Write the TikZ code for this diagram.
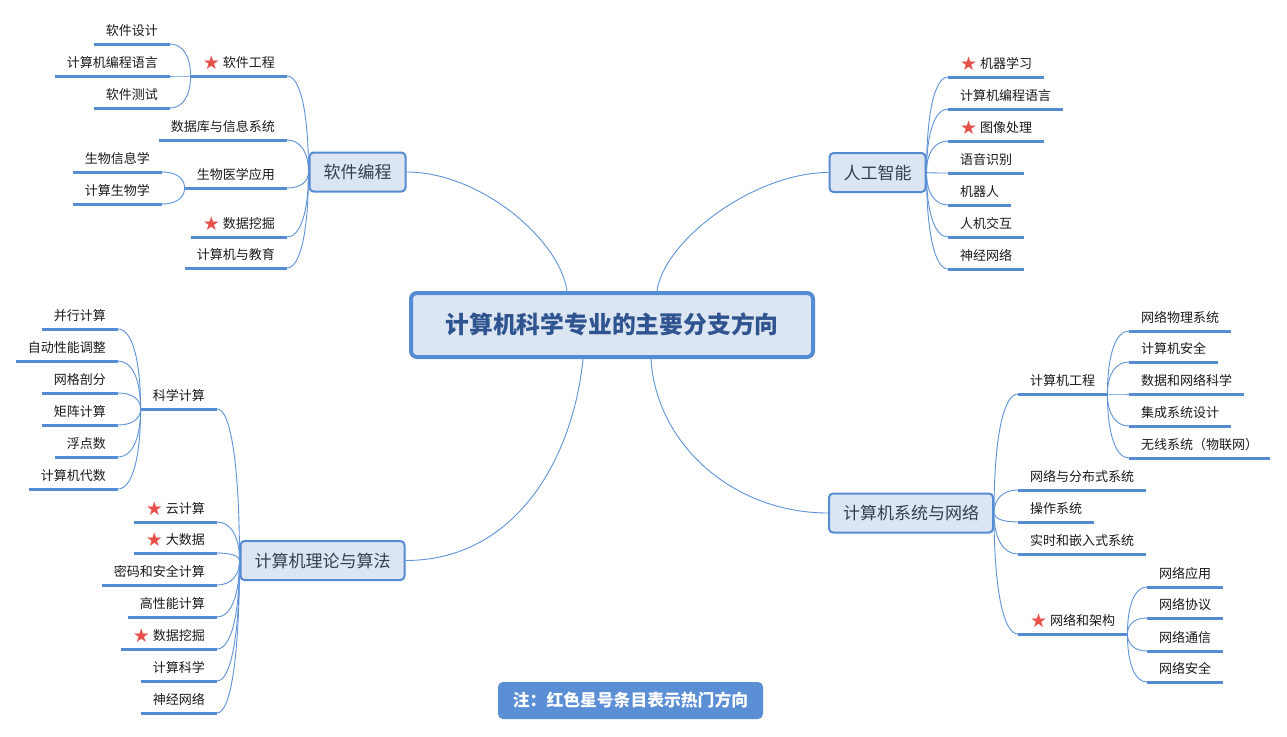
\documentclass[tikz,border=0pt]{standalone}
\usepackage{fontspec}
\setmainfont{Noto Sans CJK SC}
\newfontfamily\symfont{DejaVu Sans}
\usetikzlibrary{calc}
\definecolor{mblue}{HTML}{558BD3}
\definecolor{cblue}{HTML}{5E93D8}
\definecolor{ublue}{HTML}{558BD3}
\definecolor{mfill}{HTML}{DCE6F2}
\definecolor{roottext}{HTML}{2F548F}
\definecolor{maintext}{HTML}{333F50}
\definecolor{leaftext}{HTML}{1A1A1A}
\definecolor{starred}{HTML}{E8504A}
\definecolor{notefill}{HTML}{5A8ED5}
\newcommand\hotstar{\raisebox{-2pt}{\color{starred}\symfont\fontsize{19pt}{19pt}\selectfont ★}\hspace{3pt}}
\newcommand\leafL[4]{\node[leaf,anchor=south east] (#1) at (#2,#3) {#4};\draw[uline] (#1.south west) -- (#1.south east);}
\newcommand\leafR[4]{\node[leaf,anchor=south west] (#1) at (#2,#3) {#4};\draw[uline] (#1.south west) -- (#1.south east);}
\newcommand\link[2]{\draw[conn] (#1) .. controls ($(#1)!.62!(#1|-#2)$) and ($(#2)!.62!(#1|-#2)$) .. (#2);}
\tikzset{
  leaf/.style={inner xsep=12pt, inner ysep=0pt, text height=10pt, text depth=8.5pt,
    font=\fontsize{13pt}{15pt}\selectfont, text=leaftext},
  uline/.style={draw=ublue, line width=3pt},
  conn/.style={draw=cblue, line width=0.9pt},
  mainnode/.style={draw=mblue, line width=2pt, fill=mfill, rounded corners=4pt,
    inner xsep=14pt, inner ysep=0pt, minimum height=39pt, text height=13pt, text depth=0pt,
    font=\fontsize{17pt}{20pt}\selectfont, text=maintext},
  rootnode/.style={draw=mblue, line width=4pt, fill=mfill, rounded corners=6pt,
    minimum width=402pt, minimum height=64pt, inner sep=0pt, text height=17.8pt, text depth=0pt,
    font=\fontsize{23.8pt}{28pt}\selectfont\bfseries, text=roottext},
  notenode/.style={fill=notefill, rounded corners=5pt, minimum width=265pt, minimum height=37pt,
    inner sep=0pt, text height=12.6pt, text depth=0pt,
    font=\fontsize{16.8pt}{20pt}\selectfont\bfseries, text=white}
}
\begin{document}
\begin{tikzpicture}[x=1pt,y=-1pt]
\fill[white] (0,0) rectangle (1287,736);
\useasboundingbox (0,0) rectangle (1287,736);

% root and main nodes
\node[rootnode] (root) at (612,325) {计算机科学专业的主要分支方向};
\node[mainnode] (sw) at (357.5,172) {软件编程};
\node[mainnode] (ai) at (877.5,172.5) {人工智能};
\node[mainnode] (th) at (322.5,560.5) {计算机理论与算法};
\node[mainnode] (ne) at (911,513) {计算机系统与网络};
\node[notenode] (note) at (630.5,700.5) {注：红色星号条目表示热门方向};

\coordinate (rt1) at ($(root.north)+(-45,0)$);
\coordinate (rt2) at ($(root.north)+(45,0)$);
\coordinate (rb1) at ($(root.south)+(-29,0)$);
\coordinate (rb2) at ($(root.south)+(39,0)$);
\draw[conn] (sw.east) .. controls +(74,0) and +(-7,-51) .. (rt1);
\draw[conn] (ai.west) .. controls +(-74,0) and +(7,-51) .. (rt2);
\draw[conn] (th.east) .. controls +(110,0) and +(-10,100) .. (rb1);
\draw[conn] (ne.west) .. controls +(-95,0) and +(5,85) .. (rb2);

% 软件编程
\leafL{sw1}{287}{76}{\hotstar 软件工程}
\leafL{sw2}{287}{140}{数据库与信息系统}
\leafL{sw3}{287}{188}{生物医学应用}
\leafL{sw4}{287}{237}{\hotstar 数据挖掘}
\leafL{sw5}{287}{268}{计算机与教育}
\foreach \c in {sw1,sw2,sw3,sw4,sw5}{\link{sw.west}{\c.south east}}
\leafL{sw1a}{170}{44}{软件设计}
\leafL{sw1b}{170}{76}{计算机编程语言}
\leafL{sw1c}{170}{108}{软件测试}
\foreach \c in {sw1a,sw1b,sw1c}{\link{sw1.south west}{\c.south east}}
\leafL{sw3a}{162}{172}{生物信息学}
\leafL{sw3b}{162}{204}{计算生物学}
\foreach \c in {sw3a,sw3b}{\link{sw3.south west}{\c.south east}}

% 人工智能
\leafR{ai1}{948}{77}{\hotstar 机器学习}
\leafR{ai2}{948}{109}{计算机编程语言}
\leafR{ai3}{948}{141}{\hotstar 图像处理}
\leafR{ai4}{948}{173}{语音识别}
\leafR{ai5}{948}{205}{机器人}
\leafR{ai6}{948}{237}{人机交互}
\leafR{ai7}{948}{269}{神经网络}
\foreach \c in {ai1,ai2,ai3,ai4,ai5,ai6,ai7}{\link{ai.east}{\c.south west}}

% 计算机理论与算法
\leafL{th1}{217}{409}{科学计算}
\leafL{th2}{217}{522}{\hotstar 云计算}
\leafL{th3}{217}{553}{\hotstar 大数据}
\leafL{th4}{217}{585}{密码和安全计算}
\leafL{th5}{217}{617}{高性能计算}
\leafL{th6}{217}{649}{\hotstar 数据挖掘}
\leafL{th7}{217}{681}{计算科学}
\leafL{th8}{217}{713}{神经网络}
\foreach \c in {th1,th2,th3,th4,th5,th6,th7,th8}{\link{th.west}{\c.south east}}
\leafL{th1a}{118}{329}{并行计算}
\leafL{th1b}{118}{361}{自动性能调整}
\leafL{th1c}{118}{393}{网格剖分}
\leafL{th1d}{118}{425}{矩阵计算}
\leafL{th1e}{118}{457}{浮点数}
\leafL{th1f}{118}{489}{计算机代数}
\foreach \c in {th1a,th1b,th1c,th1d,th1e,th1f}{\link{th1.south west}{\c.south east}}

% 计算机系统与网络
\leafR{ne1}{1018}{394}{计算机工程}
\leafR{ne2}{1018}{490}{网络与分布式系统}
\leafR{ne3}{1018}{522}{操作系统}
\leafR{ne4}{1018}{554}{实时和嵌入式系统}
\leafR{ne5}{1018}{634}{\hotstar 网络和架构}
\foreach \c in {ne1,ne2,ne3,ne4,ne5}{\link{ne.east}{\c.south west}}
\leafR{ne1a}{1129}{331}{网络物理系统}
\leafR{ne1b}{1129}{362}{计算机安全}
\leafR{ne1c}{1129}{394}{数据和网络科学}
\leafR{ne1d}{1129}{426}{集成系统设计}
\leafR{ne1e}{1129}{458}{无线系统（物联网）}
\foreach \c in {ne1a,ne1b,ne1c,ne1d,ne1e}{\link{ne1.south east}{\c.south west}}
\leafR{ne5a}{1147}{587}{网络应用}
\leafR{ne5b}{1147}{618}{网络协议}
\leafR{ne5c}{1147}{651}{网络通信}
\leafR{ne5d}{1147}{682}{网络安全}
\foreach \c in {ne5a,ne5b,ne5c,ne5d}{\link{ne5.south east}{\c.south west}}
\end{tikzpicture}
\end{document}
